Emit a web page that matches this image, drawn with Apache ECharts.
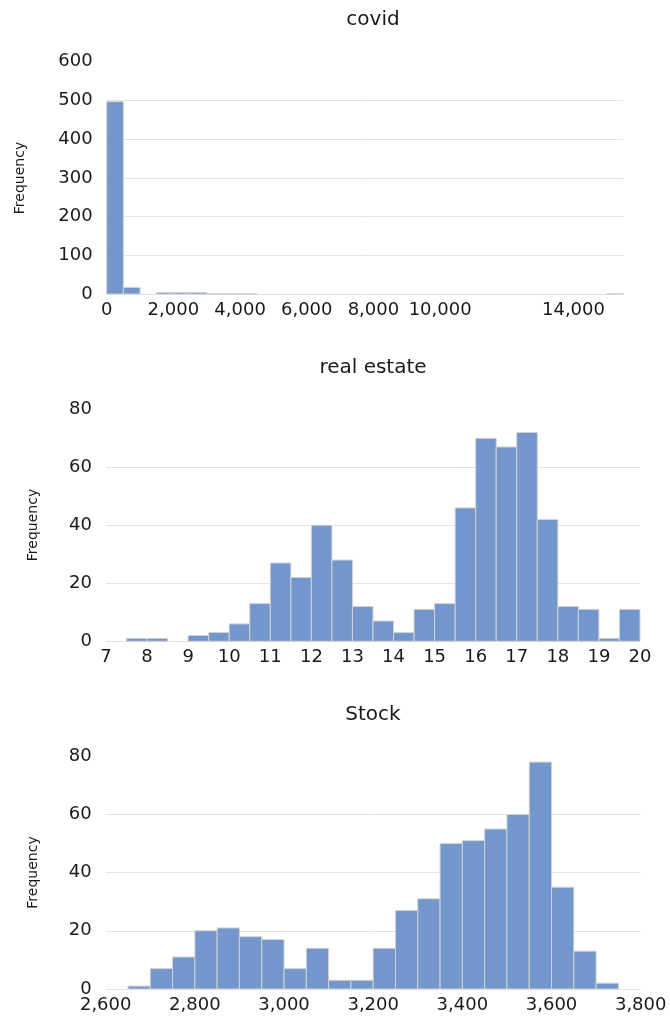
<!DOCTYPE html>
<html><head><meta charset="utf-8">
<script src="https://cdn.jsdelivr.net/npm/echarts@6/dist/echarts.min.js"></script>
<style>html,body{margin:0;padding:0;background:#fff}#c{width:670px;height:1019px}</style>
</head><body><div id="c"></div>
<script>
// ---- data ----
const chartTitles = ['covid', 'real estate', 'Stock'];
const yAxisTitle = 'Frequency';

const covidBinStart = [0, 500, 1000, 1500, 2000, 2500, 3000, 3500, 4000, 15000];
const covidBinWidth = 500;
const covidCounts   = [497, 17, 0, 4, 4, 4, 1, 1, 1, 1];
const covidTickLabels = [0, 2000, 4000, 6000, 8000, 10000, 14000];

const realEstateBinStart = [7.5, 8, 8.5, 9, 9.5, 10, 10.5, 11, 11.5, 12, 12.5, 13, 13.5, 14, 14.5, 15, 15.5, 16, 16.5, 17, 17.5, 18, 18.5, 19, 19.5];
const realEstateBinWidth = 0.5;
const realEstateCounts   = [1, 1, 0, 2, 3, 6, 13, 27, 22, 40, 28, 12, 7, 3, 11, 13, 46, 70, 67, 72, 42, 12, 11, 1, 11];
const realEstateTickLabels = [7, 8, 9, 10, 11, 12, 13, 14, 15, 16, 17, 18, 19, 20];

const stockBinStart = [2650, 2700, 2750, 2800, 2850, 2900, 2950, 3000, 3050, 3100, 3150, 3200, 3250, 3300, 3350, 3400, 3450, 3500, 3550, 3600, 3650, 3700];
const stockBinWidth = 50;
const stockCounts   = [1, 7, 11, 20, 21, 18, 17, 7, 14, 3, 3, 14, 27, 31, 50, 51, 55, 60, 78, 35, 13, 2];
const stockTickLabels = [2600, 2800, 3000, 3200, 3400, 3600, 3800];

// ---- build ----
const FONT = 'DejaVu Sans';
const TXT = '#1a1a1a';
function bins(starts, w, counts) { return starts.map((s, i) => [s, s + w, counts[i]]); }
const fmt = v => Math.round(v).toString().replace(/\B(?=(\d{3})+(?!\d))/g, ',');

const grids = [
  { left: 106.7, top: 61.8, width: 516.8, height: 232.2 },
  { left: 106, top: 409.3, width: 534, height: 232 },
  { left: 105.7, top: 756.3, width: 535, height: 232.7 }
];
const xDefs = [
  { min: 0, max: 15500, interval: 2000, ticks: covidTickLabels },
  { min: 7, max: 20, interval: 1, ticks: realEstateTickLabels },
  { min: 2600, max: 3800, interval: 200, ticks: stockTickLabels }
];
const yDefs = [
  { min: 0, max: 600, interval: 100 },
  { min: 0, max: 80, interval: 20 },
  { min: 0, max: 80, interval: 20 }
];
const seriesData = [
  bins(covidBinStart, covidBinWidth, covidCounts),
  bins(realEstateBinStart, realEstateBinWidth, realEstateCounts),
  bins(stockBinStart, stockBinWidth, stockCounts)
];

const titleY = [20, 368, 715];
const freqX = [20, 33, 33];
const freqY = [178, 525, 872.5];

const graphics = [];
chartTitles.forEach((t, i) => {
  graphics.push({ type: 'text', x: 373, y: titleY[i],
    style: { text: t, font: '20px "' + FONT + '"', fill: TXT, textAlign: 'center', textVerticalAlign: 'middle' } });
  graphics.push({ type: 'text', x: freqX[i], y: freqY[i], rotation: Math.PI / 2,
    style: { text: yAxisTitle, font: '14px "' + FONT + '"', fill: TXT, textAlign: 'center', textVerticalAlign: 'middle' } });
});

const option = {
  animation: false,
  backgroundColor: '#fff',
  grid: grids,
  graphic: graphics,
  xAxis: xDefs.map((d, i) => ({
    type: 'value', gridIndex: i, min: d.min, max: d.max, interval: d.interval,
    axisLine: { show: false }, axisTick: { show: false }, splitLine: { show: false },
    axisLabel: { fontFamily: FONT, fontSize: 18, color: TXT, margin: 7,
      formatter: v => d.ticks.some(t => Math.abs(t - v) < 1e-9) ? fmt(v) : '' }
  })),
  yAxis: yDefs.map((d, i) => ({
    type: 'value', gridIndex: i, min: d.min, max: d.max, interval: d.interval,
    axisLine: { show: false }, axisTick: { show: false },
    splitLine: { show: true, showMaxLine: false, showMinLine: true, lineStyle: { color: '#e4e4e4', width: 1 } },
    axisLabel: { fontFamily: FONT, fontSize: 18, color: TXT, margin: 14, padding: [0, 0, 4, 0], formatter: v => fmt(v) }
  })),
  series: seriesData.map((data, i) => ({
    type: 'custom', xAxisIndex: i, yAxisIndex: i, data: data,
    encode: { x: [0, 1], y: 2 },
    renderItem: (params, api) => {
      if (!api.value(2)) return null;
      const p0 = api.coord([api.value(0), api.value(2)]);
      const p1 = api.coord([api.value(1), 0]);
      return { type: 'rect',
        shape: { x: p0[0], y: p0[1], width: p1[0] - p0[0], height: p1[1] - p0[1] },
        style: { fill: '#7396cd', stroke: '#d2d2d2', lineWidth: 1 } };
    }
  }))
};
const chart = echarts.init(document.getElementById('c'), null, { renderer: 'canvas' });
chart.setOption(option);
</script>
</body></html>
